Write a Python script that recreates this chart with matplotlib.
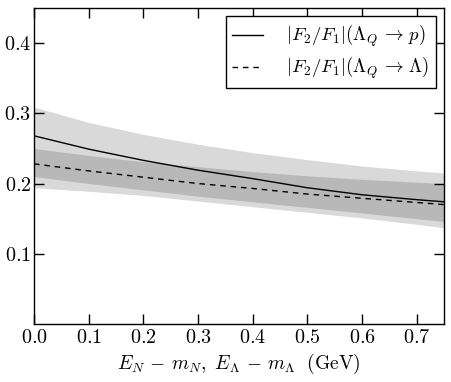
import matplotlib
matplotlib.use("Agg")
import matplotlib.pyplot as plt
import numpy as np

plt.rcParams['mathtext.fontset'] = 'cm'
plt.rcParams['font.family'] = 'serif'
plt.rcParams['font.serif'] = ['cmr10']
plt.rcParams['axes.formatter.use_mathtext'] = True

# energia cinetica (GeV)
x = np.array([0.0, 0.1, 0.2, 0.3, 0.4, 0.5, 0.6, 0.7, 0.75])

# Lambda_Q -> p
p_mig = [0.268, 0.249, 0.233, 0.219, 0.207, 0.194, 0.184, 0.177, 0.174]
p_dalt = [0.309, 0.287, 0.270, 0.256, 0.244, 0.234, 0.225, 0.218, 0.215]
p_baix = [0.210, 0.200, 0.191, 0.182, 0.174, 0.166, 0.158, 0.150, 0.146]

# Lambda_Q -> Lambda
l_mig = [0.228, 0.218, 0.209, 0.200, 0.193, 0.185, 0.179, 0.173, 0.170]
l_dalt = [0.250, 0.240, 0.231, 0.224, 0.217, 0.211, 0.206, 0.202, 0.200]
l_baix = [0.194, 0.189, 0.183, 0.175, 0.167, 0.159, 0.151, 0.142, 0.137]

fig = plt.figure(figsize=(4.51, 3.82), dpi=100)
ax = fig.add_axes([0.0754, 0.152, 0.909, 0.827])

ax.fill_between(x, p_baix, p_dalt, color='k', alpha=0.15, lw=0)
ax.fill_between(x, l_baix, l_dalt, color='k', alpha=0.15, lw=0)
ax.plot(x, p_mig, 'k-', lw=1.0, label=r'$|F_2/F_1|(\Lambda_Q\,\to\, p)$')
ax.plot(x, l_mig, 'k--', lw=1.0, dashes=(4, 3.5),
        label=r'$|F_2/F_1|(\Lambda_Q\,\to\, \Lambda)$')

ax.set_xlim(0, 0.75)
ax.set_ylim(0.0, 0.45)
ax.set_yticks([0.1, 0.2, 0.3, 0.4])
ax.set_xticks([0.0, 0.1, 0.2, 0.3, 0.4, 0.5, 0.6, 0.7])
ax.tick_params(direction='in', top=True, right=True, length=7, width=1,
               labelsize=14.5)
ax.tick_params(axis='y', pad=2)
ax.set_xlabel(r'$E_N\,-\,m_N,\ E_\Lambda\,-\,m_\Lambda\ \ (\mathrm{GeV})$', fontsize=14)
for s in ax.spines.values():
    s.set_linewidth(1)

leg = ax.legend(loc='upper right', fontsize=13.5, fancybox=False,
                edgecolor='k', framealpha=1, handlelength=1.65,
                borderpad=0.35, labelspacing=0.3, handletextpad=1.2,
                borderaxespad=0.45)
leg.get_frame().set_linewidth(1)

fig.savefig('out.png', dpi=100)
